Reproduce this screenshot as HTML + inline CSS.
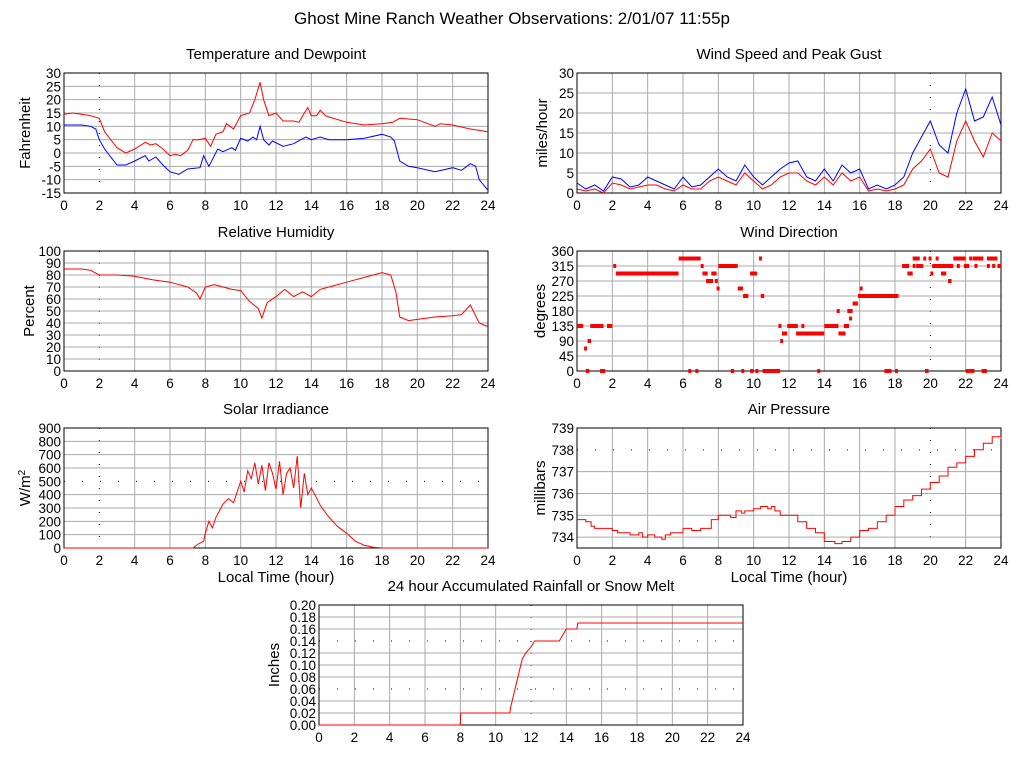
<!DOCTYPE html>
<html><head><meta charset="utf-8"><style>
body{margin:0;background:#fff}
svg{display:block;font-family:"Liberation Sans",sans-serif}
</style></head><body>
<svg id="c" width="1024" height="768" viewBox="0 0 1024 768">
<text x="512" y="24" text-anchor="middle" font-size="17">Ghost Mine Ranch Weather Observations: 2/01/07 11:55p</text>
</svg>
<script>
// Temperature & dewpoint
const tempHours=[0,0.5,1,1.5,2,2.3,2.7,3,3.5,4,4.6,4.9,5.2,5.6,6,6.3,6.6,7,7.3,7.6,8,8.3,8.6,9,9.2,9.6,10,10.5,10.8,11.1,11.3,11.6,12,12.4,13,13.3,13.6,13.8,14,14.3,14.5,14.8,15,16,17,18,18.6,19,20,21,21.3,22,23,24];
const tempValues=[14.5,15,14.5,14,13,8,4.5,2,0,1.5,4,3,3.5,1.5,-1,-0.5,-1,1,5,5,5.5,2.5,7,8,11,9,14,15,20,26.5,20,14,15,12,12,11.5,15,17,14,14,16,14,13.5,11.5,10.5,11,11.5,13,12.5,10,11,10.5,9,8];
const dewHours=[0,1,1.5,1.8,2,2.3,3,3.5,4,4.6,4.8,5.2,5.6,6,6.5,7,7.7,7.9,8.2,8.7,9,9.5,9.7,10,10.4,10.7,10.9,11.1,11.3,11.6,11.8,12.4,13,13.4,13.7,14,14.5,15,16,17,18,18.5,18.7,19,19.5,20,21,22,22.5,23,23.3,23.5,24];
const dewValues=[10.5,10.5,10,9,5,1.5,-4.5,-4.5,-3,-1,-3,-1.5,-4.5,-7,-8,-6,-5.5,-1,-5,1.5,0.5,2,1,5.5,4.5,6,5,10,5,3,4.5,2.5,3.5,5,6,5,6,5,5,5.5,7,6,4.5,-3,-5,-5.5,-7,-5.5,-6.5,-4,-5,-10,-14];
// Wind
const windHours=[0,0.5,1,1.5,2,2.5,3,3.5,4,4.5,5,5.5,6,6.5,7,7.5,8,8.5,9,9.5,10,10.5,11,11.5,12,12.5,13,13.5,14,14.5,15,15.5,16,16.5,17,17.5,18,18.5,19,19.5,20,20.5,21,21.5,22,22.5,23,23.5,24];
const gustValues=[2.5,1,2,0.5,4,3.5,1.5,2,4,3,2,1,4,1.5,2,4,6,4,3,7,4,2,4,6,7.5,8,4,3,6,3,7,5,6,1,2,1,2,4,10,14,18,12,10,20,26,18,19,24,17];
const speedValues=[1,0.5,1,0,2.5,2,1,1.5,2,2,1,0.5,2,1,1,3,4,3,2,5,3,1,2,4,5,5,3,2,4,2,5,3,4,0.5,1,0.5,1,2,6,8,11,5,4,13,18,13,9,15,13];
// Humidity
const rhHours=[0,1,1.5,2,3,4,5,6,7,7.5,7.7,8,8.5,9,9.5,10,10.5,11,11.2,11.5,12,12.5,13,13.5,14,14.5,15,16,17,18,18.5,18.8,19,19.5,20,21,22,22.5,23,23.5,24];
const rhValues=[85,85,84,80,80,79,76,74,70,65,60,70,72,70,68,67,58,52,44,57,62,68,62,66,62,68,70,74,78,82,80,65,45,42,43,45,46,47,55,40,37];
// Wind direction segments
const dirStart=[0,0.4,0.5,0.6,0.75,1.3,1.7,2.05,2.2,5.75,6.3,6.7,7,7.1,7.3,7.6,7.8,7.9,8,8.7,9.1,9.3,9.4,9.8,9.8,10.1,10.3,10.4,10.5,11.4,11.5,11.6,11.9,12.4,12.7,13.6,14,14.7,14.8,15.1,15.3,15.4,15.6,15.9,16,16,17.4,18,18.4,18.7,19,19,19.2,19.6,19.7,19.9,20,20.1,20.3,20.6,21,21.3,21.5,21.9,22,22.2,22.2,22.4,22.5,22.9,23.2,23.2,23.5,23.8];
const dirEnd=[0.35,0.5,0.7,0.8,1.5,1.6,2,2.15,5.75,7,6.4,6.8,7.1,7.4,7.7,7.9,7.9,7.95,9.1,8.9,9.4,9.4,9.7,10.2,10,10.2,10.4,10.6,11.5,11.5,11.6,11.9,12.5,14,12.75,13.7,14.8,14.8,15.2,15.4,15.6,15.5,15.9,16,16.1,18.2,17.8,18.1,18.8,19,19.4,19.1,19.6,19.7,19.9,20,20.05,21.3,20.4,20.9,21.2,22,21.6,22.2,22.2,22.5,22.3,23,22.6,23.2,23.8,23.3,23.6,24];
const dirValues=[135,67.5,0,90,135,0,135,315,292.5,337.5,0,0,315,292.5,270,292.5,270,247.5,315,0,247.5,0,225,292.5,0,0,337.5,225,0,135,90,112.5,135,112.5,135,0,135,180,112.5,135,180,157.5,202.5,225,247.5,225,0,0,315,292.5,337.5,315,315,337.5,0,337.5,292.5,315,337.5,292.5,270,337.5,315,315,0,0,337.5,337.5,315,0,337.5,315,315,315];
// Solar
const solarHours=[0,7.3,7.6,7.9,8,8.2,8.4,8.6,8.8,9,9.3,9.6,9.8,10,10.2,10.4,10.6,10.8,11,11.2,11.4,11.6,11.8,12,12.2,12.4,12.6,12.8,13,13.2,13.4,13.6,13.8,14,14.2,14.5,15,15.5,16,16.5,17,17.5,18,24];
const solarValues=[0,0,30,50,110,200,150,230,280,330,370,340,420,500,420,580,520,640,480,620,430,640,560,440,650,400,560,600,450,690,300,560,400,450,400,320,230,160,110,50,20,5,0,0];
// Pressure
const presHours=[0,0.5,0.8,1,2,2.3,3,3.5,3.7,4,4.4,4.8,5,5.3,6,6.5,7,7.6,8,8.7,9,9.3,9.5,10,10.4,10.8,11,11.2,11.5,12,12.5,13,13.5,14,14.6,15,15.5,16,16.5,17,17.5,18,18.5,19,19.5,20,20.5,21,21.5,22,22.5,23,23.5,24];
const presValues=[734.8,734.7,734.5,734.4,734.3,734.2,734.1,734.2,734,734.1,734,733.9,734.1,734.2,734.4,734.3,734.4,734.8,735,734.9,735.2,735.1,735.2,735.3,735.4,735.3,735.4,735.2,735,735,734.7,734.4,734.2,733.8,733.7,733.8,734,734.3,734.4,734.7,735,735.4,735.7,735.9,736.2,736.5,736.8,737.2,737.4,737.7,738,738.3,738.6,738.5];
// Rain
const rainHours=[0,8,8.02,10.8,10.85,11.5,11.7,12,12.2,13.6,13.8,14,14.6,14.65,24];
const rainValues=[0,0,0.02,0.02,0.03,0.11,0.12,0.13,0.14,0.14,0.15,0.16,0.16,0.17,0.17];

const NS='http://www.w3.org/2000/svg';
const svg=document.getElementById('c');
function mk(tag,attrs,parent){const e=document.createElementNS(NS,tag);for(const k in attrs)e.setAttribute(k,attrs[k]);(parent||svg).appendChild(e);return e;}

function panel(cfg){
  const g=mk('g',{});
  
  
  const X=h=>cfg.x0+(cfg.x1-cfg.x0)*h/24;
  const Y=v=>cfg.y1-(cfg.y1-cfg.y0)*(v-cfg.min)/(cfg.max-cfg.min);
  cfg.X=X;cfg.Y=Y;
  for(let h=2;h<24;h+=2){
    const dotted=(h===cfg.dotX);
    const l=mk('line',{x1:X(h),x2:X(h),y1:cfg.y0,y2:cfg.y1,stroke:dotted?'#000':'#aaa','stroke-width':1,'stroke-dasharray':dotted?'1 11':'none'},g);
    
    
  }
  cfg.ticks.forEach((v,i)=>{
    const dotted=(cfg.dotY||[]).includes(v);
    const y=Y(v);
    if(y>cfg.y0+0.5&&y<cfg.y1-0.5){
      const l=mk('line',{x1:cfg.x0,x2:cfg.x1,y1:y,y2:y,stroke:dotted?'#000':'#aaa','stroke-width':1,'stroke-dasharray':dotted?'1 17':'none'},g);
      
      
    }
    const t=mk('text',{x:cfg.x0-3,y:y+5,'text-anchor':'end','font-size':13.5,'textLength':cfg.tlw||null},g);
    t.textContent=cfg.tickLabels[i];
    
    
  });
  for(let h=0;h<=24;h+=2){
    const t=mk('text',{x:X(h),y:cfg.y1+17,'text-anchor':'middle','font-size':13.5},g);
    t.textContent=h;
    
    
  }
  const fr=mk('rect',{x:cfg.x0,y:cfg.y0,width:cfg.x1-cfg.x0,height:cfg.y1-cfg.y0,fill:'none',stroke:'#000','stroke-width':1},g);
  
  
  const tt=mk('text',{x:(cfg.x0+cfg.x1)/2,y:cfg.y0-14,'text-anchor':'middle','font-size':15},g);
  tt.textContent=cfg.title;
  
  
  const yl=mk('text',{x:0,y:0,'text-anchor':'middle','font-size':15,transform:`translate(${cfg.x0-cfg.yoff},${(cfg.y0+cfg.y1)/2}) rotate(-90)`},g);
  yl.innerHTML=cfg.ylabel;
  
  
  if(cfg.xlabel){
    const xl=mk('text',{x:(cfg.x0+cfg.x1)/2,y:cfg.y1+34,'text-anchor':'middle','font-size':15},g);
    xl.textContent=cfg.xlabel;
    
    
  }
  cfg.g=g;
  return cfg;
}
function line(cfg,hours,vals,color,name,step){
  let d='';
  hours.forEach((h,i)=>{
    const x=cfg.X(h).toFixed(1),y=cfg.Y(vals[i]).toFixed(1);
    if(i===0)d+='M'+x+' '+y;
    else if(step)d+='H'+x+'V'+y;
    else d+='L'+x+' '+y;
  });
  const p=mk('path',{d:d,fill:'none',stroke:color,'stroke-width':1},cfg.g);
  
  
}
function range(a,b,s){const r=[];for(let v=a;v<=b+1e-9;v+=s)r.push(+v.toFixed(4));return r;}

const p1=panel({name:'temperature-panel',x0:64,x1:488,y0:73,y1:193,min:-15,max:30,ticks:range(-15,30,5),tickLabels:range(-15,30,5).map(String),dotX:2,title:'Temperature and Dewpoint',ylabel:'Fahrenheit',yoff:34});
line(p1,dewHours,dewValues,'#00f','dewpoint-line');
line(p1,tempHours,tempValues,'#f00','temperature-line');

const p2=panel({name:'wind-speed-panel',x0:577,x1:1001,y0:73,y1:193,min:0,max:30,ticks:range(0,30,5),tickLabels:range(0,30,5).map(String),dotX:20,title:'Wind Speed and Peak Gust',ylabel:'miles/hour',yoff:30});
line(p2,windHours,gustValues,'#00f','peak-gust-line');
line(p2,windHours,speedValues,'#f00','wind-speed-line');

const p3=panel({name:'humidity-panel',x0:64,x1:488,y0:251,y1:371,min:0,max:100,ticks:range(0,100,10),tickLabels:range(0,100,10).map(String),dotX:2,title:'Relative Humidity',ylabel:'Percent',yoff:30});
line(p3,rhHours,rhValues,'#f00','humidity-line');

const p4=panel({name:'wind-direction-panel',x0:577,x1:1001,y0:251,y1:371,min:0,max:360,ticks:range(0,360,45),tickLabels:range(0,360,45).map(String),dotX:20,title:'Wind Direction',ylabel:'degrees',yoff:32});
dirStart.forEach((s,i)=>{
  const r=mk('rect',{x:p4.X(s),y:p4.Y(dirValues[i])-2,width:Math.max(3,p4.X(dirEnd[i])-p4.X(s)),height:4,fill:'#f00'},p4.g);
  
  
});

const p5=panel({name:'solar-panel',x0:64,x1:488,y0:428,y1:548,min:0,max:900,ticks:range(0,900,100),tickLabels:range(0,900,100).map(String),dotX:2,dotY:[500],title:'Solar Irradiance',ylabel:'W/m<tspan dy="-5" font-size="10">2</tspan>',xlabel:'Local Time (hour)',yoff:34});
line(p5,solarHours,solarValues,'#f00','solar-line');

const p6=panel({name:'pressure-panel',x0:577,x1:1001,y0:428,y1:548,min:733.5,max:739,ticks:range(734,739,1),tickLabels:range(734,739,1).map(String),dotX:20,dotY:[738],title:'Air Pressure',ylabel:'millibars',xlabel:'Local Time (hour)',yoff:32});
line(p6,presHours,presValues,'#f00','pressure-line',true);

const p7=panel({name:'rainfall-panel',x0:319,x1:743,y0:605,y1:725,min:0,max:0.2,ticks:range(0,0.2,0.02),tickLabels:range(0,0.2,0.02).map(v=>v.toFixed(2)),dotX:12,dotY:[0.06,0.14],title:'24 hour Accumulated Rainfall or Snow Melt',ylabel:'Inches',yoff:40});
line(p7,rainHours,rainValues,'#f00','rainfall-line');
</script>
</body></html>
